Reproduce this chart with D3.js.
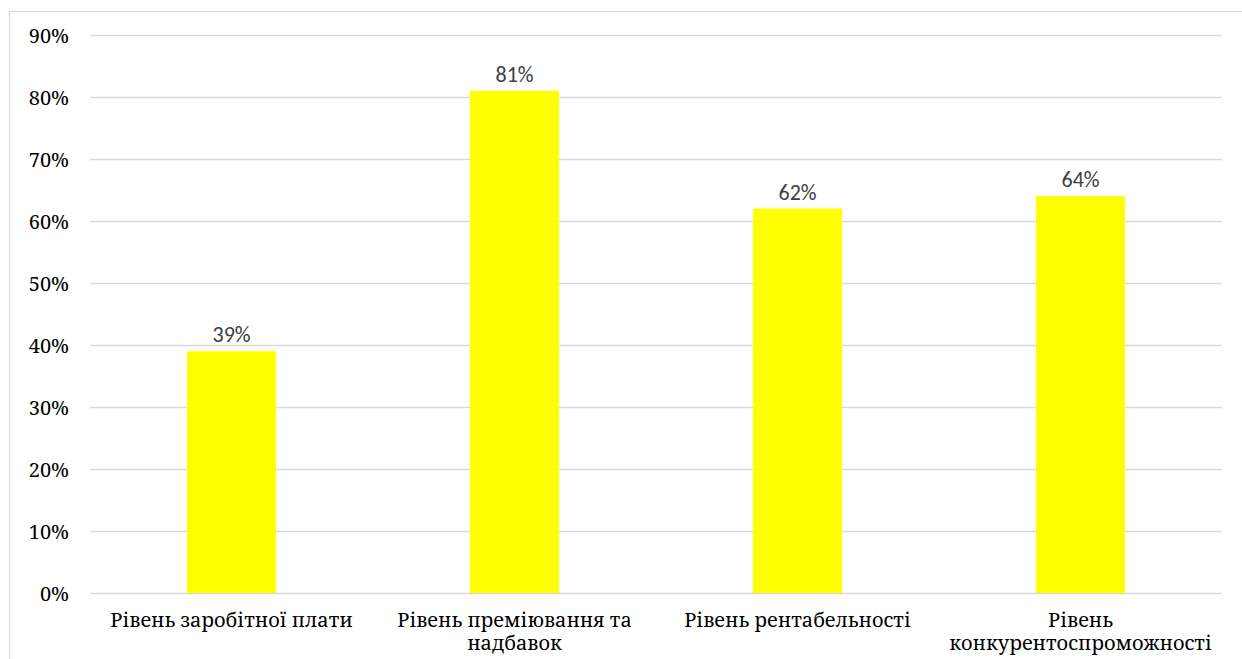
<!DOCTYPE html>
<html>
<head>
<meta charset="utf-8">
<script src="https://cdn.jsdelivr.net/npm/d3@7"></script>
<style>
  html, body { margin: 0; padding: 0; background: #fff; }
  svg { display: block; }
</style>
</head>
<body>
<svg id="chart" width="1242" height="659"></svg>
<script>
const categories = [
  "Рівень заробітної плати",
  "Рівень преміювання та надбавок",
  "Рівень рентабельності",
  "Рівень конкурентоспроможності"
];
const values = [0.39, 0.81, 0.62, 0.64];
const yTicks = [0, 0.1, 0.2, 0.3, 0.4, 0.5, 0.6, 0.7, 0.8, 0.9];

const svg = d3.select("#chart");
const W = 1242, H = 659;
const margin = { left: 90, right: 20, top: 35, bottom: 66 };
const plotW = W - margin.left - margin.right;   // 1132
const plotH = H - margin.top - margin.bottom;   // 558
const serif = "Noto Serif";

// outer chart border
svg.append("rect")
  .attr("x", 9.5).attr("y", 11.5)
  .attr("width", 1260).attr("height", 700)
  .attr("fill", "#fff").attr("stroke", "#d9d9d9").attr("stroke-width", 1.3);

const g = svg.append("g").attr("transform", `translate(${margin.left},${margin.top})`);

const x = d3.scaleBand().domain(categories).range([0, plotW])
  .paddingInner(0.685).paddingOuter(0.3425);
const y = d3.scaleLinear().domain([0, 0.9]).range([plotH, 0]);

// gridlines
const yAxis = d3.axisLeft(y).tickValues(yTicks).tickFormat("").tickSize(-plotW);
const ya = g.append("g").call(yAxis);
ya.select(".domain").remove();
ya.selectAll(".tick line").attr("stroke", "#d9d9d9").attr("stroke-width", 1.3);
ya.selectAll(".tick text").remove();

// y tick labels
g.selectAll("text.ytick").data(yTicks).enter().append("text")
  .attr("class", "ytick")
  .attr("x", -21)
  .attr("y", d => y(d) + 8)
  .attr("text-anchor", "end")
  .attr("fill", "#000")
  .style("font-family", serif)
  .style("font-size", "20px")
  .text(d => d3.format(".0%")(d));

// bars
g.selectAll("rect.bar").data(values).enter().append("rect")
  .attr("class", "bar")
  .attr("x", (d, i) => x(categories[i]))
  .attr("y", d => y(d))
  .attr("width", x.bandwidth())
  .attr("height", d => plotH - y(d))
  .attr("fill", "#ffff00");

// data labels
g.selectAll("text.val").data(values).enter().append("text")
  .attr("class", "val")
  .attr("x", (d, i) => x(categories[i]) + x.bandwidth() / 2)
  .attr("y", d => y(d) - 9)
  .attr("text-anchor", "middle")
  .attr("fill", "#404040")
  .style("font-family", "Carlito")
  .style("font-size", "22px")
  .text(d => d3.format(".0%")(d));

// category labels with wrapping
const catSize = 20;
const maxW = 275;
categories.forEach((c, i) => {
  const cx = x(c) + x.bandwidth() / 2;
  const words = c.split(" ");
  const probe = g.append("text")
    .style("font-family", serif).style("font-size", catSize + "px");
  let lines = [], line = [];
  words.forEach(w => {
    const test = line.concat(w).join(" ");
    probe.text(test);
    if (probe.node().getComputedTextLength() > maxW && line.length) {
      lines.push(line.join(" "));
      line = [w];
    } else {
      line.push(w);
    }
  });
  lines.push(line.join(" "));
  probe.remove();
  lines.forEach((l, k) => {
    g.append("text")
      .attr("class", "xlabel")
      .attr("x", cx)
      .attr("y", plotH + 34 + k * 23)
      .attr("text-anchor", "middle")
      .attr("fill", "#000")
      .style("font-family", serif)
      .style("font-size", catSize + "px")
      .text(l);
  });
});
</script>
</body>
</html>
